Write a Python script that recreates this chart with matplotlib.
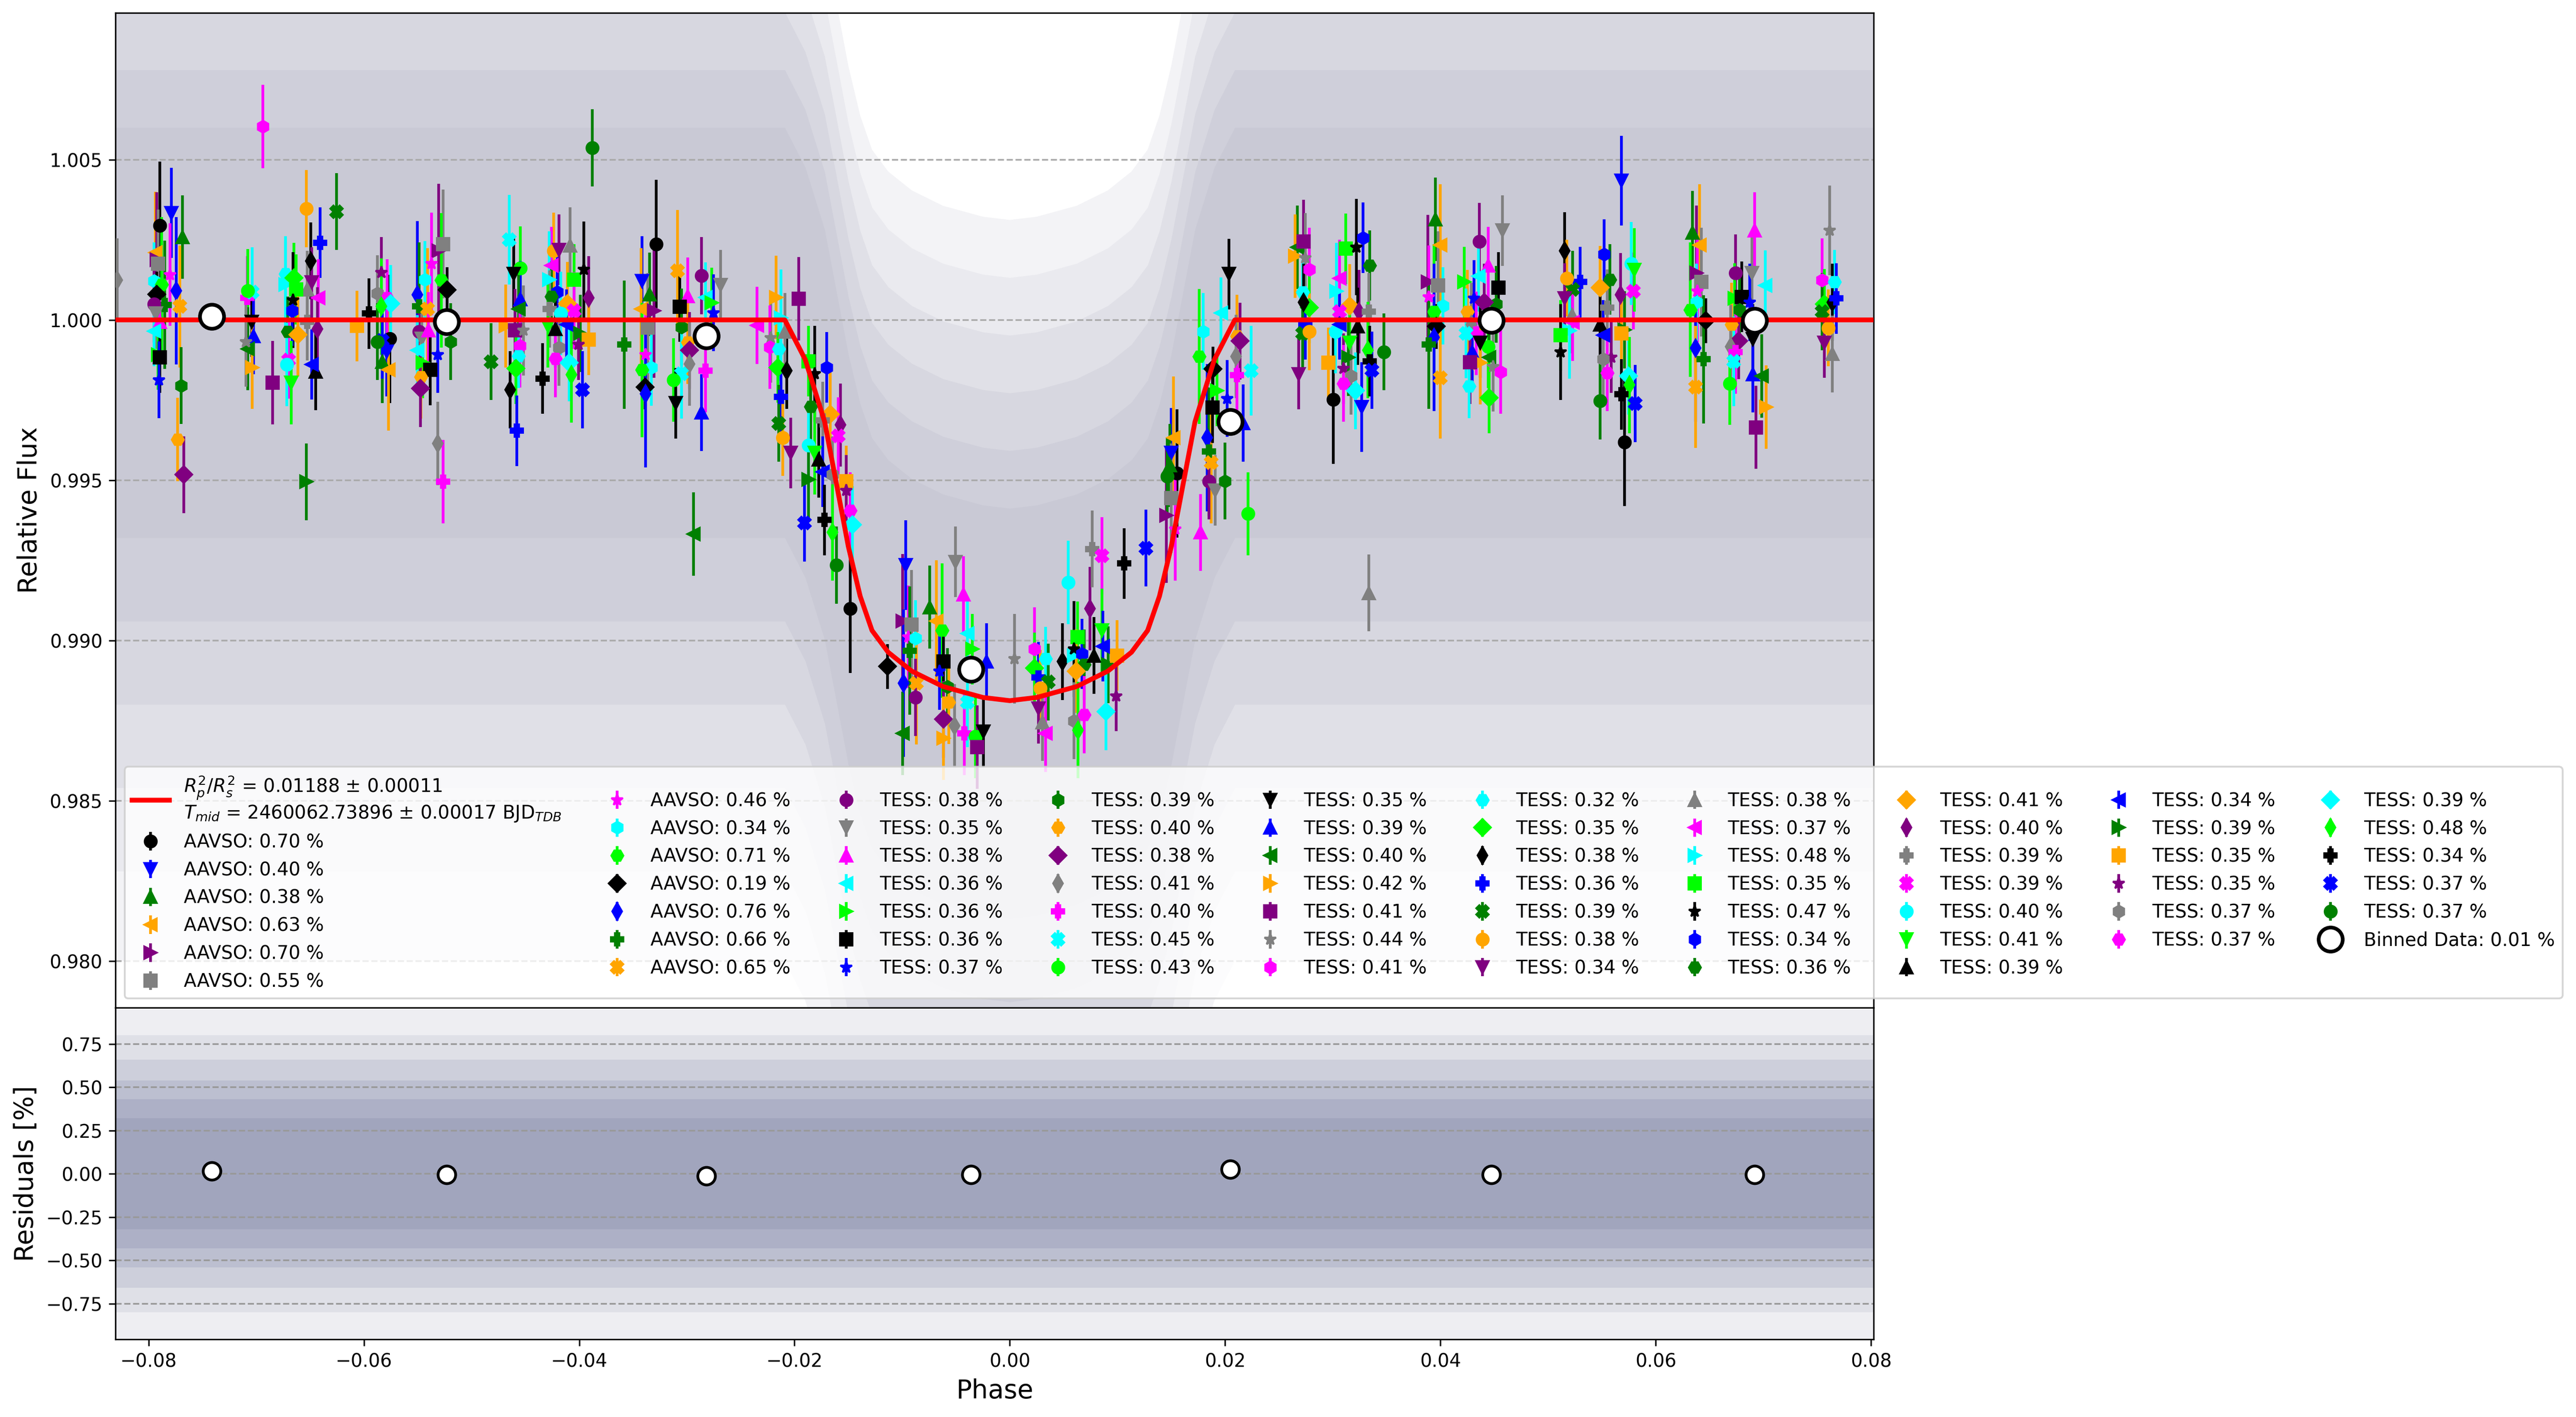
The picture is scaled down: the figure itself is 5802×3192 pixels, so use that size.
import matplotlib
matplotlib.use("Agg")
import matplotlib.pyplot as plt
import numpy as np

# ---------------- data ----------------
# transit model (red curve)
model_phase = [-0.0831, -0.0209, -0.0190, -0.0172, -0.0161, -0.0150, -0.0139, -0.0128, -0.0113,
               -0.0091, -0.0062, -0.0025, 0.0, 0.0025, 0.0062, 0.0091, 0.0113, 0.0128, 0.0139,
               0.0150, 0.0161, 0.0172, 0.0190, 0.0209, 0.0803]
model_flux = [1.0, 1.0, 0.99876, 0.99682, 0.99488, 0.99293, 0.99138, 0.99031, 0.98963,
              0.98904, 0.98856, 0.98822, 0.98812, 0.98822, 0.98856, 0.98904, 0.98963, 0.99031, 0.99138,
              0.99293, 0.99488, 0.99682, 0.99876, 1.0, 1.0]

# binned data (white circles)
bin_phase = [-0.07412, -0.05230, -0.02818, -0.00362, 0.02049, 0.04475, 0.06917]
bin_flux = [1.00011, 0.99994, 0.99949, 0.98909, 0.99682, 0.99998, 0.99998]
bin_resid = [0.015, -0.004, -0.013, -0.004, 0.025, -0.004, -0.004]

# legend labels of the data sets
aavso_std = ["0.70", "0.40", "0.38", "0.63", "0.70", "0.55", "0.46", "0.34", "0.71", "0.19", "0.76", "0.66", "0.65"]
tess_std = ["0.38", "0.35", "0.38", "0.36", "0.36", "0.36", "0.37",
            "0.39", "0.40", "0.38", "0.41", "0.40", "0.45", "0.43",
            "0.35", "0.39", "0.40", "0.42", "0.41", "0.44", "0.41",
            "0.32", "0.35", "0.38", "0.36", "0.39", "0.38", "0.34",
            "0.38", "0.37", "0.48", "0.35", "0.47", "0.34", "0.36",
            "0.41", "0.40", "0.39", "0.39", "0.40", "0.41", "0.39",
            "0.34", "0.39", "0.35", "0.35", "0.37", "0.37",
            "0.39", "0.48", "0.34", "0.37", "0.37"]

# error bar half-length of the binned points of each data set
aavso_err = [0.0020, 0.0014, 0.0013, 0.0019, 0.0021, 0.0017, 0.0016, 0.0012, 0.0021, 0.0007, 0.0023, 0.0020, 0.0019]
tess_err = [0.0012, 0.0011, 0.0012, 0.0011, 0.0011, 0.0011, 0.0012,
            0.0012, 0.0013, 0.0012, 0.0013, 0.0013, 0.0014, 0.0013,
            0.0011, 0.0012, 0.0013, 0.0013, 0.0013, 0.0014, 0.0013,
            0.0010, 0.0011, 0.0012, 0.0011, 0.0012, 0.0012, 0.0011,
            0.0012, 0.0012, 0.0015, 0.0011, 0.0015, 0.0011, 0.0011,
            0.0013, 0.0013, 0.0012, 0.0012, 0.0013, 0.0013, 0.0012,
            0.0011, 0.0012, 0.0011, 0.0011, 0.0012, 0.0012,
            0.0012, 0.0015, 0.0011, 0.0012, 0.0012]

# bright (per data set) binned points, grouped in phase clusters
A_ph = [-0.07897, -0.07787, -0.07684, -0.07938, -0.07924, -0.07914, -0.07800, -0.07948, -0.07880, -0.07924,
        -0.07742, -0.07852, -0.07708, -0.07948, -0.07931, -0.07897, -0.07948, -0.07914, -0.07897, -0.07904,
        -0.07697, -0.07732, -0.07673, -0.08290]
A_fl = [1.00294, 1.00334, 1.00259, 1.00210, 1.00188, 1.00175, 1.00141, 1.00122, 1.00111, 1.00080,
        1.00091, 1.00047, 1.00042, 1.00049, 1.00020, 0.99994, 0.99965, 0.99892, 0.99883, 0.99813,
        0.99795, 0.99627, 0.99517, 1.00124]
B_ph = [-0.07084, -0.07036, -0.07077, -0.07043, -0.07025, -0.07077, -0.07036, -0.06850, -0.07094, -0.06940]
B_fl = [1.00069, 1.00087, 1.00091, 0.99994, 0.99950, 0.99910, 0.99852, 0.99804, 0.99932, 1.00603]
C_ph = [-0.06728, -0.06649, -0.06494, -0.06408, -0.06253, -0.06535, -0.06487, -0.06528, -0.06425, -0.06728,
        -0.06631, -0.06659, -0.06666, -0.06707, -0.06614, -0.06432, -0.06528, -0.06700, -0.06717, -0.06673,
        -0.06449, -0.06487, -0.06535, -0.06064]
C_fl = [1.00144, 1.00131, 1.00184, 1.00241, 1.00338, 1.00347, 1.00117, 1.00095, 1.00069, 1.00111,
        1.00095, 1.00062, 1.00029, 0.99963, 0.99954, 0.99972, 0.99994, 0.99875, 0.99861, 0.99804,
        0.99839, 0.99861, 0.99495, 0.99981]
D_ph = [-0.05838, -0.05873, -0.05783, -0.05749, -0.05838, -0.05955, -0.05828, -0.05873, -0.05759, -0.05790,
        -0.05828, -0.05770]
D_fl = [1.00148, 1.00082, 1.00069, 1.00051, 1.00042, 1.00020, 0.99936, 0.99932, 0.99941, 0.99901,
        0.99870, 0.99844]
E_ph = [-0.05304, -0.05263, -0.05373, -0.05435, -0.05280, -0.05229, -0.05503, -0.05486, -0.05407, -0.05486,
        -0.05462, -0.05400, -0.05503, -0.05452, -0.05383, -0.05315, -0.05194, -0.05469, -0.05476, -0.05315,
        -0.05263]
E_fl = [1.00215, 1.00237, 1.00175, 1.00126, 1.00124, 1.00094, 1.00078, 1.00042, 1.00034, 0.99963,
        0.99941, 0.99967, 0.99905, 0.99866, 0.99844, 0.99892, 0.99932, 0.99822, 0.99786, 0.99614,
        0.99495]
F_ph = [-0.04648, -0.04545, -0.04607, -0.04545, -0.04562, -0.04683, -0.04597, -0.04518, -0.04552, -0.04562,
        -0.04586, -0.04642, -0.04580, -0.04820]
F_fl = [1.00250, 1.00162, 1.00144, 1.00064, 1.00034, 0.99981, 0.99967, 0.99967, 0.99919, 0.99888,
        0.99848, 0.99782, 0.99654, 0.99870]
G_ph = [-0.04238, -0.04187, -0.04084, -0.04256, -0.04280, -0.04049, -0.03957, -0.04204, -0.04256, -0.04108,
        -0.03912, -0.04273, -0.04049, -0.04170, -0.04290, -0.04221, -0.04118, -0.03991, -0.03912, -0.04005,
        -0.04187, -0.04221, -0.04094, -0.04073, -0.04341, -0.03970, -0.03877]
G_fl = [1.00215, 1.00219, 1.00232, 1.00170, 1.00126, 1.00126, 1.00157, 1.00087, 1.00073, 1.00051,
        1.00069, 1.00034, 1.00029, 1.00020, 0.99981, 0.99972, 0.99985, 0.99958, 0.99938, 0.99923,
        0.99914, 0.99879, 0.99866, 0.99829, 0.99817, 0.99782, 1.00537]
H_ph = [-0.03286, -0.03417, -0.03348, -0.03423, -0.03307, -0.03365, -0.03382, -0.03331, -0.03417, -0.03389,
        -0.03382, -0.03582]
H_fl = [1.00237, 1.00122, 1.00080, 1.00034, 1.00029, 0.99976, 0.99892, 0.99852, 0.99844, 0.99791,
        0.99769, 0.99923]
J_ph = [-0.03085, -0.02863, -0.02685, -0.02993, -0.02826, -0.02771, -0.03067, -0.02752, -0.03048, -0.02993,
        -0.02974, -0.02974, -0.02826, -0.03048, -0.03122, -0.03104, -0.02863, -0.02937]
J_fl = [1.00153, 1.00138, 1.00109, 1.00075, 1.00070, 1.00053, 1.00041, 1.00022, 0.99978, 0.99930,
        0.99905, 0.99862, 0.99842, 0.99832, 0.99813, 0.99740, 0.99711, 0.99332]
K_ph = [-0.02171, -0.01960, -0.02219, -0.02230, -0.02145, -0.02156, -0.02071, -0.02126, -0.02145, -0.02108,
        -0.02034, -0.02089, -0.02348, -0.02126]
K_fl = [1.00070, 1.00066, 0.99944, 0.99915, 0.99910, 0.99852, 0.99842, 0.99760, 0.99677, 0.99633,
        0.99585, 0.99964, 0.99983, 1.00007]
L_ph = [-0.01869, -0.01814, -0.01703, -0.01851, -0.01666, -0.01573, -0.01740, -0.01592, -0.01869, -0.01814,
        -0.01777, -0.01740, -0.01869, -0.01518, -0.01518, -0.01647, -0.01481, -0.01462, -0.01647, -0.01721,
        -0.01906, -0.01610, -0.01481]
L_fl = [0.99871, 0.99832, 0.99852, 0.99730, 0.99706, 0.99672, 0.99687, 0.99638, 0.99609, 0.99585,
        0.99565, 0.99526, 0.99502, 0.99497, 0.99468, 0.99517, 0.99405, 0.99361, 0.99337, 0.99376,
        0.99366, 0.99235, 0.99099]
M_ph = [-0.00968, -0.00746, -0.00683, -0.00994, -0.00912, -0.00942, -0.00875, -0.00628, -0.01134, -0.00986,
        -0.00931, -0.00868, -0.00875, -0.00506, -0.00432, -0.00395, -0.00350, -0.00617, -0.00654, -0.00580,
        -0.00568, -0.00617, -0.00513, -0.00424, -0.00395, -0.00321, -0.00247, -0.00217, -0.00994, -0.00617,
        -0.00302]
M_fl = [0.99235, 0.99104, 0.99060, 0.99060, 0.99050, 0.99011, 0.99006, 0.99031, 0.98919, 0.98866,
        0.98968, 0.98866, 0.98822, 0.99245, 0.99143, 0.99021, 0.98973, 0.98934, 0.98904, 0.98856,
        0.98807, 0.98754, 0.98734, 0.98710, 0.98807, 0.98700, 0.98715, 0.98934, 0.98710, 0.98695,
        0.98667]
N_ph = [0.00043, 0.00228, 0.00332, 0.00228, 0.00487, 0.00265, 0.00358, 0.00284, 0.00265, 0.00302,
        0.00332, 0.00598, 0.00628, 0.00598, 0.00672, 0.00691, 0.00617, 0.00746, 0.00765, 0.00857,
        0.00543, 0.00857, 0.00783, 0.00865, 0.00913, 0.00998, 0.00987, 0.00598, 0.00691, 0.00894,
        0.00635, 0.01061, 0.01264]
N_fl = [0.98943, 0.98973, 0.98943, 0.98914, 0.98934, 0.98885, 0.98870, 0.98851, 0.98788, 0.98744,
        0.98710, 0.98953, 0.99011, 0.98973, 0.98958, 0.98924, 0.98904, 0.99099, 0.99285, 0.99264,
        0.99181, 0.99031, 0.98953, 0.98982, 0.98924, 0.98953, 0.98827, 0.98749, 0.98768, 0.98778,
        0.98720, 0.99240, 0.99288]
O_ph = [0.01463, 0.01555, 0.01500, 0.01489, 0.01518, 0.01452, 0.01500, 0.01537, 0.01796, 0.01758,
        0.01888, 0.01833, 0.01851, 0.01869, 0.01851, 0.01906, 0.01770, 0.01962, 0.01925, 0.01881,
        0.02017, 0.01999, 0.02110, 0.02140, 0.02103, 0.02110, 0.02240, 0.02214, 0.02036, 0.02168]
O_fl = [0.99512, 0.99521, 0.99585, 0.99546, 0.99633, 0.99390, 0.99444, 0.99347, 0.99964, 0.99886,
        0.99847, 0.99633, 0.99589, 0.99555, 0.99497, 0.99468, 0.99337, 1.00022, 0.99779, 0.99726,
        0.99755, 0.99497, 0.99949, 0.99934, 0.99886, 0.99828, 0.99842, 0.99395, 1.00143, 0.99678]
P_ph = [0.02671, 0.02652, 0.02727, 0.02746, 0.02783, 0.02719, 0.02783, 0.02727, 0.02746, 0.02719,
        0.02783, 0.02682, 0.03335]
P_fl = [1.00227, 1.00199, 1.00245, 1.00193, 1.00158, 1.00087, 1.00038, 1.00055, 0.99986, 0.99958,
        0.99963, 0.99831, 0.99148]
Q_ph = [0.03063, 0.03033, 0.03119, 0.03220, 0.03280, 0.03344, 0.03157, 0.03243, 0.03333, 0.03063,
        0.03025, 0.03157, 0.03232, 0.03063, 0.03145, 0.02958, 0.03100, 0.03168, 0.03100, 0.03213,
        0.03325, 0.03344, 0.03363, 0.03475, 0.03006, 0.03269]
Q_fl = [1.00130, 1.00090, 1.00222, 1.00227, 1.00256, 1.00170, 1.00044, 1.00026, 1.00026, 1.00026,
        0.99963, 0.99929, 0.99980, 0.99986, 0.99883, 0.99866, 0.99848, 0.99825, 0.99802, 0.99779,
        0.99906, 0.99871, 0.99843, 0.99900, 0.99751, 0.99728]
R_ph = [0.03953, 0.03998, 0.03885, 0.03979, 0.03893, 0.04024, 0.03942, 0.03960, 0.03942, 0.03893, 0.03998]
R_fl = [1.00314, 1.00233, 1.00118, 1.00107, 1.00072, 1.00044, 1.00026, 0.99980, 0.99946, 0.99923, 0.99820]
S_ph = [0.04363, 0.04577, 0.04445, 0.04352, 0.04220, 0.04539, 0.04314, 0.04520, 0.04250, 0.04408,
        0.04288, 0.04333, 0.04239, 0.04445, 0.04370, 0.04295, 0.04453, 0.04370, 0.04276, 0.04490,
        0.04558, 0.04265, 0.04453]
S_fl = [1.00245, 1.00279, 1.00170, 1.00136, 1.00118, 1.00101, 1.00067, 1.00049, 1.00026, 1.00055,
        0.99986, 0.99958, 0.99958, 0.99917, 0.99929, 0.99900, 0.99883, 0.99866, 0.99868, 0.99854,
        0.99837, 0.99793, 0.99757]
T_ph = [0.05154, 0.05297, 0.05229, 0.05173, 0.05154, 0.05222, 0.05229, 0.05199, 0.05117, 0.05117,
        0.05522, 0.05575, 0.05485, 0.05672, 0.05548, 0.05792, 0.05774, 0.05800, 0.05485, 0.05511,
        0.05710, 0.05680, 0.05586, 0.05511, 0.05548, 0.05747, 0.05755, 0.05680, 0.05811, 0.05485,
        0.05710, 0.05680]
T_fl = [1.00216, 1.00118, 1.00095, 1.00130, 1.00067, 1.00015, 0.99992, 0.99966, 0.99952, 0.99900,
        1.00204, 1.00126, 1.00101, 1.00078, 1.00038, 1.00090, 1.00176, 1.00156, 0.99986, 0.99952,
        0.99969, 0.99958, 0.99883, 0.99877, 0.99835, 0.99825, 0.99797, 0.99768, 0.99739, 0.99747,
        0.99619, 1.00434]
U_ph = [0.06343, 0.06407, 0.06380, 0.06425, 0.06388, 0.06380, 0.06320, 0.06463, 0.06369, 0.06444, 0.06369]
U_fl = [1.00273, 1.00233, 1.00147, 1.00118, 1.00090, 1.00055, 1.00032, 0.99998, 0.99912, 0.99877, 0.99791]
V_ph = [0.06742, 0.06892, 0.06919, 0.07016, 0.06731, 0.06799, 0.06874, 0.06780, 0.06705, 0.06769,
        0.06694, 0.06742, 0.06724, 0.06686, 0.06904, 0.06904, 0.06986, 0.07024, 0.06930]
V_fl = [1.00147, 1.00147, 1.00279, 1.00107, 1.00067, 1.00072, 1.00055, 1.00032, 0.99986, 0.99935,
        0.99917, 0.99900, 0.99871, 0.99802, 0.99940, 0.99831, 0.99825, 0.99728, 0.99665]
W_ph = [0.07614, 0.07546, 0.07659, 0.07565, 0.07640, 0.07678, 0.07546, 0.07603, 0.07565, 0.07640]
W_fl = [1.00279, 1.00124, 1.00118, 1.00049, 1.00055, 1.00067, 1.00026, 0.99975, 0.99929, 0.99894]

# spread of the un-binned data cloud around the model (outer -> inner), above and below
haze_up = [0.0150, 0.0132, 0.0114, 0.0096, 0.0078, 0.0060]
haze_dn = [0.0200, 0.0172, 0.0146, 0.0120, 0.0094, 0.0068]
# spread of the residual cloud [%] (outer -> inner)
resid_halfwidth = [0.95, 0.80, 0.66, 0.54, 0.43, 0.32]

# ---------------- styling ----------------
colors = ['black', 'blue', 'green', 'orange', 'purple', 'gray', 'magenta', 'cyan', 'lime']
markers = ['o', 'v', '^', '<', '>', 's', '*', 'h', 'H', 'D', 'd', 'P', 'X']
haze_colors = ['#f3f3f6', '#eaeaef', '#e0e0e7', '#d7d7e0', '#cfcfda', '#c9c9d5']
resid_colors = ['#eeeef2', '#dfe0e7', '#cdcfdb', '#bcbfd0', '#adb0c6', '#a1a5bd']

labels = ["AAVSO: %s %%" % s for s in aavso_std] + ["TESS: %s %%" % s for s in tess_std]
errs = aavso_err + tess_err
nds = len(labels)

pt_phase = (A_ph + B_ph + C_ph + D_ph + E_ph + F_ph + G_ph + H_ph + J_ph + K_ph + L_ph + M_ph + N_ph
            + O_ph + P_ph + Q_ph + R_ph + S_ph + T_ph + U_ph + V_ph + W_ph)
pt_flux = (A_fl + B_fl + C_fl + D_fl + E_fl + F_fl + G_fl + H_fl + J_fl + K_fl + L_fl + M_fl + N_fl
           + O_fl + P_fl + Q_fl + R_fl + S_fl + T_fl + U_fl + V_fl + W_fl)

fig = plt.figure(figsize=(5802 / 300, 3192 / 300), dpi=300)
ax = fig.add_axes([0.04481, 0.28885, 0.68253, 0.70206])
axr = fig.add_axes([0.04481, 0.05482, 0.68253, 0.23402], sharex=ax)

mp = np.array(model_phase)
mf = np.array(model_flux)
for hu, hd, col in zip(haze_up, haze_dn, haze_colors):
    ax.fill_between(mp, mf - hd, mf + hu, color=col, lw=0, zorder=0.5)

containers = []
for i in range(nds):
    ph = pt_phase[i::nds]
    fl = pt_flux[i::nds]
    c = ax.errorbar(ph, fl, yerr=errs[i], fmt=markers[i % len(markers)], color=colors[i % len(colors)],
                    ms=6.5, elinewidth=1.5, capsize=0, label=labels[i], zorder=3)
    containers.append(c)

model_label = (r"$R_{p}^{2}/R_{s}^{2}$ = 0.01188 $\pm$ 0.00011" + "\n"
               + r"$T_{mid}$ = 2460062.73896 $\pm$ 0.00017 BJD$_{TDB}$")
mline, = ax.plot(model_phase, model_flux, color='red', lw=2.6, zorder=4, label=model_label)
bline, = ax.plot(bin_phase, bin_flux, 'o', ms=13, mfc='white', mec='black', mew=2, ls='none',
                 zorder=5, label='Binned Data: 0.01 %')

ax.set_xlim(-0.08308, 0.08024)
ax.set_ylim(0.97854, 1.00958)
ax.set_ylabel('Relative Flux', fontsize=14)
ax.grid(True, axis='y', linestyle='--', color='#aaaaaa', lw=0.9)
ax.tick_params(labelbottom=False)

handles = [mline] + containers + [bline]
leg = ax.legend(handles=handles, labels=[h.get_label() for h in handles], loc='lower left', ncol=10)
leg.set_zorder(10)

# residuals
for hw, col in zip(resid_halfwidth, resid_colors):
    axr.axhspan(-hw, hw, color=col, lw=0, zorder=0.5)
axr.plot(bin_phase, bin_resid, 'o', ms=9.5, mfc='white', mec='black', mew=1.5, ls='none', zorder=5)
axr.set_ylim(-0.9563, 0.9594)
axr.set_yticks([-0.75, -0.5, -0.25, 0.0, 0.25, 0.5, 0.75])
axr.set_ylabel('Residuals [%]', fontsize=14)
axr.set_xlabel('Phase', fontsize=14)
axr.grid(True, axis='y', linestyle='--', color='#999999', lw=0.9)

fig.savefig('out.png', dpi=300)
